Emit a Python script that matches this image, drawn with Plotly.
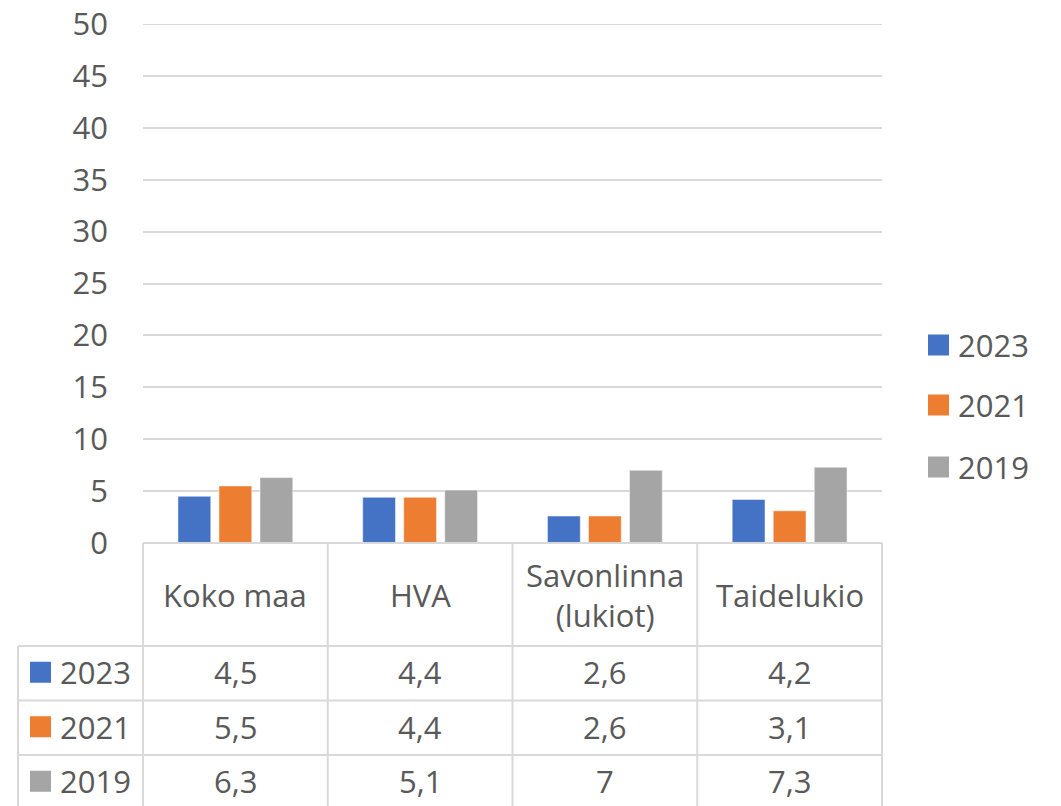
import plotly.graph_objects as go

categories = ["Koko maa", "HVA", "Savonlinna (lukiot)", "Taidelukio"]
category_labels = ["Koko maa", "HVA", "Savonlinna<br>(lukiot)", "Taidelukio"]
series_names = ["2023", "2021", "2019"]
values_2023 = [4.5, 4.4, 2.6, 4.2]
values_2021 = [5.5, 4.4, 2.6, 3.1]
values_2019 = [6.3, 5.1, 7.0, 7.3]
series_values = [values_2023, values_2021, values_2019]
colors = ["#4472C4", "#ED7D31", "#A5A5A5"]
y_ticks = [0, 5, 10, 15, 20, 25, 30, 35, 40, 45, 50]

W, H = 1061, 806
PL, PR, PT, PB = 143, 882, 24, 543  # plot area in px
FONT = "Open Sans"
FS = 31
TXT = "#595959"
GRID = "#D9D9D9"

def px_x(px):
    return (px - PL) / (PR - PL)

def px_y(py):
    return (PB - py) / (PB - PT)

def fmt(v):
    s = ("%g" % v)
    return s.replace(".", ",")

fig = go.Figure()
for name, vals, col in zip(series_names, series_values, colors):
    fig.add_trace(go.Bar(
        x=categories, y=vals, name=name,
        marker=dict(color=col, line=dict(color="rgba(255,255,255,0.5)", width=1)),
    ))

shapes = []
annotations = []
line_style = dict(color=GRID, width=2)

row_lines = [646, 700.5, 755, 809.5]
left_border = 18
ncat = len(categories)
cat_w = (PR - PL) / ncat

# top gridline at 50
shapes.append(dict(type="line", xref="paper", yref="y", x0=0, x1=1, y0=50, y1=50,
                   line=line_style, layer="below"))

# table frame
shapes.append(dict(type="line", xref="paper", yref="paper",
                   x0=px_x(PL), x1=px_x(PR), y0=px_y(PB), y1=px_y(PB), line=line_style))
for i in range(ncat + 1):
    xb = PL + i * cat_w
    shapes.append(dict(type="line", xref="paper", yref="paper",
                       x0=px_x(xb), x1=px_x(xb), y0=px_y(PB), y1=px_y(H + 20), line=line_style))
shapes.append(dict(type="line", xref="paper", yref="paper",
                   x0=px_x(left_border), x1=px_x(left_border),
                   y0=px_y(row_lines[0]), y1=px_y(H + 20), line=line_style))
for ry in row_lines[:-1]:
    shapes.append(dict(type="line", xref="paper", yref="paper",
                       x0=px_x(left_border), x1=px_x(PR), y0=px_y(ry), y1=px_y(ry), line=line_style))

# header texts
for i, lab in enumerate(category_labels):
    annotations.append(dict(xref="paper", yref="paper",
                            x=px_x(PL + (i + 0.5) * cat_w), y=px_y((PB + row_lines[0]) / 2),
                            text=lab, showarrow=False, xanchor="center", yanchor="middle",
                            font=dict(family=FONT, size=FS, color=TXT)))

# data rows
for r, (name, vals, col) in enumerate(zip(series_names, series_values, colors)):
    yc = (row_lines[r] + row_lines[r + 1]) / 2 - 1
    shapes.append(dict(type="rect", xref="paper", yref="paper",
                       x0=px_x(30), x1=px_x(51), y0=px_y(yc - 10.5), y1=px_y(yc + 10.5),
                       fillcolor=col, line=dict(width=0)))
    annotations.append(dict(xref="paper", yref="paper", x=px_x(58), y=px_y(yc),
                            text=name, showarrow=False, xanchor="left", yanchor="middle",
                            font=dict(family=FONT, size=FS, color=TXT)))
    for i, v in enumerate(vals):
        annotations.append(dict(xref="paper", yref="paper",
                                x=px_x(PL + (i + 0.5) * cat_w), y=px_y(yc),
                                text=fmt(v), showarrow=False, xanchor="center", yanchor="middle",
                                font=dict(family=FONT, size=FS, color=TXT)))

# right legend
legend_y = [345, 405, 467]
for name, col, ly in zip(series_names, colors, legend_y):
    shapes.append(dict(type="rect", xref="paper", yref="paper",
                       x0=px_x(928), x1=px_x(949), y0=px_y(ly - 10.5), y1=px_y(ly + 10.5),
                       fillcolor=col, line=dict(width=0)))
    annotations.append(dict(xref="paper", yref="paper", x=px_x(956), y=px_y(ly),
                            text=name, showarrow=False, xanchor="left", yanchor="middle",
                            font=dict(family=FONT, size=FS, color=TXT)))

fig.update_layout(
    width=W, height=H,
    margin=dict(l=PL, r=W - PR, t=PT, b=H - PB, pad=0, autoexpand=False),
    paper_bgcolor="white", plot_bgcolor="white",
    barmode="group", bargap=0.334, bargroupgap=0.2,
    showlegend=False,
    shapes=shapes, annotations=annotations,
    font=dict(family=FONT, size=FS, color=TXT),
)
fig.update_xaxes(showticklabels=False, showgrid=False, showline=False, zeroline=False,
                 range=[-0.5, 3.5], automargin=False)
fig.update_yaxes(range=[0, 50], tickvals=y_ticks, showgrid=True, gridcolor=GRID, gridwidth=2,
                 zeroline=False, showline=False, ticks="", ticklabelstandoff=34,
                 automargin=False,
                 tickfont=dict(family=FONT, size=FS, color=TXT))

fig.write_html("out.html", config={"displayModeBar": False},
               post_script="document.body.style.margin='0';")
